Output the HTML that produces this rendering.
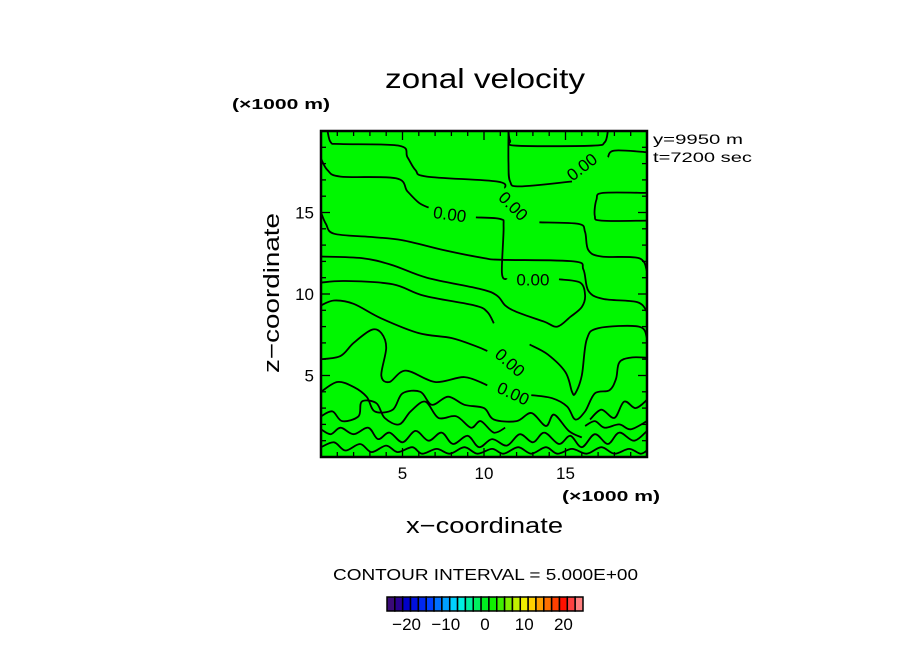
<!DOCTYPE html>
<html><head><meta charset="utf-8"><style>
body{margin:0;background:#fff;}
svg{display:block;font-family:"Liberation Sans",sans-serif;}
</style></head><body>
<svg id="c" width="904" height="654" viewBox="0 0 904 654">
<text x="385" y="88" font-size="28" textLength="200" lengthAdjust="spacingAndGlyphs">zonal velocity</text>
<text x="232" y="109" font-size="15" font-weight="bold" textLength="98" lengthAdjust="spacingAndGlyphs">(×1000 m)</text>
<text x="653" y="144" font-size="14" textLength="90" lengthAdjust="spacingAndGlyphs">y=9950 m</text>
<text x="653" y="162" font-size="14" textLength="99" lengthAdjust="spacingAndGlyphs">t=7200 sec</text>
<rect x="321" y="131" width="326" height="326" fill="#00f700"/>
<g id="contours" fill="none" stroke="#000" stroke-width="1.8"></g>
<g id="clabels" font-size="17"></g>
<g id="ticks" stroke="#000" stroke-width="1.3"></g>
<rect x="321" y="131" width="326" height="326" fill="none" stroke="#000" stroke-width="2.5"/>
<g id="tlabels" font-size="17"></g>
<text x="562" y="501" font-size="15" font-weight="bold" textLength="98" lengthAdjust="spacingAndGlyphs">(×1000 m)</text>
<text x="406" y="533" font-size="22" textLength="157" lengthAdjust="spacingAndGlyphs">x−coordinate</text>
<text transform="translate(279,373) rotate(-90)" font-size="22" textLength="160" lengthAdjust="spacingAndGlyphs">z−coordinate</text>
<text x="333" y="580" font-size="16" textLength="305" lengthAdjust="spacingAndGlyphs">CONTOUR INTERVAL = 5.000E+00</text>
<g id="cbar"></g>
<g id="cbl" font-size="17" text-anchor="middle"></g>
</svg>
<script>
const xTicks=[5,10,15];
const zTicks=[5,10,15];
const cbarTicks=[-20,-10,0,10,20];
const cbarLevels=[-25,-23,-21,-19,-17,-15,-13,-11,-9,-7,-5,-3,-1,1,3,5,7,9,11,13,15,17,19,21,23];
const cbarColors=["#3a0a78","#2a0090","#0000c8","#0010e0","#0028f0","#0040ff","#0070ff","#00a0ff","#00d0ff","#00f0e0","#00f0a0","#00f060","#00f020","#10f000","#40f000","#80f000","#c0f000","#f0f000","#ffd000","#ffa000","#ff7000","#ff4000","#ff1000","#ff4040","#ff8080"];
const contours=[
[[0.4,20],[0.6,19.3],[1.2,19.2],[4.8,19.1],[5.3,18.4],[5.8,17.6],[6.5,17.2],[10.8,16.9],[11.3,16.5]],
[[13.4,14.4],[15.8,14.3],[16.2,13.8],[16.4,12.7],[17.2,12.3],[19.5,12.2],[20,11.4]],
[[17.6,20],[17.4,19.3],[16.6,19.1],[12.0,19.1],[11.6,19.4],[11.5,20]],
[[20,18.7],[18.0,18.8],[17.6,18.4]],
[[15.4,16.9],[12.2,16.6],[11.6,16.9],[11.5,18.0],[11.5,20]],
[[20,16.2],[17.3,16.2],[16.9,15.8],[16.8,14.8],[17.2,14.5],[20,14.5]],
[[0,18.3],[0.4,17.6],[1.2,17.2],[4.6,17.1],[5.3,16.3],[6.0,15.6],[6.6,15.3]],
[[9.5,14.7],[11.0,14.6],[11.2,14.1],[11.1,11.3],[11.4,10.9]],
[[14.6,10.9],[15.9,10.7],[16.2,9.9],[16.0,9.2],[15.3,8.6],[14.5,8.0],[13.7,8.3],[12.0,8.9],[11.3,9.3],[10.8,9.9],[9.8,10.3],[6.5,11.0],[4.3,11.8],[2.5,12.2],[0,12.3]],
[[0,15.0],[0.3,14.3],[0.8,13.7],[3,13.5],[5,13.3],[7.5,12.7],[10,12.2],[11.1,12.1],[15.5,12.0],[16.1,11.5],[16.4,10.2],[17.3,9.7],[19.4,9.5],[20,8.9]],
[[0,10.7],[1.5,10.8],[4.4,10.6],[6.3,9.9],[9.4,9.3],[10.2,8.9],[10.6,8.2]],
[[12.8,6.9],[13.9,6.3],[15.0,5.2],[15.4,4.0],[15.6,3.9],[16.0,5.0],[16.3,7.2],[17.0,7.9],[19.5,8.0],[20,7.3]],
[[0,9.3],[0.8,9.6],[2.0,9.4],[3.7,8.5],[6,7.6],[8,7.3],[9.5,6.8],[10.2,6.5]],
[[0,6.0],[1.2,6.2],[2.0,7.0],[3.1,7.8],[3.7,7.6],[4.0,6.7],[3.7,5.0],[4.2,4.6],[5.2,5.3],[7.0,4.6],[8.8,4.9],[10.2,4.4]],
[[12.9,3.8],[14.2,3.6],[15.1,3.1],[15.6,2.3],[16.2,2.8],[16.8,3.9],[17.7,4.1],[18.1,4.8],[18.3,5.8],[19.0,6.1],[20,6.1]],
[[0,4.0],[1.0,4.6],[2.0,4.3],[2.8,3.7],[3.3,2.8],[4.4,2.9],[5.0,3.9],[6.1,4.0],[6.8,3.2],[7.8,3.7],[8.8,3.2],[10.0,3.0],[10.6,2.3],[12.0,2.2],[12.9,2.7],[13.8,1.9],[14.3,2.6],[15.2,1.6],[16.0,1.2]],
[[0,2.5],[0.7,2.8],[1.3,2.2],[2.3,2.5],[2.5,3.4],[3.4,3.3],[3.9,2.4],[4.8,2.0],[5.5,2.8],[6.4,3.4],[7.2,2.4],[8.3,2.5],[9.2,1.8],[9.8,2.2],[10.6,1.5],[11.3,1.8]],
[[0,1.7],[0.6,1.4],[1.2,1.8],[2.0,1.4],[2.9,1.8],[3.5,1.1],[4.2,1.5],[5.0,0.9],[5.8,1.6],[6.6,1.0],[7.4,1.5],[8.1,0.8],[9.0,1.3],[9.7,0.6],[10.5,1.1],[11.4,0.7],[12.2,1.4],[13.0,0.9],[13.7,1.5],[14.6,0.8],[15.3,1.3],[16.0,0.6],[16.8,1.4],[17.6,0.8],[18.3,1.5],[19.2,1.0],[20,1.6]],
[[0,0.6],[0.8,0.9],[1.5,0.4],[2.4,0.8],[3.1,0.3],[4.0,0.7],[4.7,0.3],[5.6,0.6],[6.2,0.2],[7.1,0.5],[7.9,0.2],[8.8,0.6],[9.6,0.2],[10.5,0.5],[11.2,0.2],[12.1,0.6],[12.9,0.2],[13.8,0.6],[14.5,0.2],[15.4,0.5],[16.3,0.2],[17.2,0.6],[18.0,0.2],[18.9,0.5],[19.6,0.2],[20,0.4]],
[[16.5,2.3],[17.2,2.9],[18.0,2.4],[18.6,3.4],[19.3,3.0],[20,3.5]],
[[16.2,1.9],[16.8,2.2],[17.4,1.8],[18.3,2.0],[19.0,1.7],[20,2.2]]
];
const labelText=["0.00","0.00","0.00","0.00","0.00","0.00"];
const labelX=[7.9,16.0,11.8,13.0,11.6,11.8];
const labelZ=[14.9,17.8,15.4,10.9,5.8,3.9];
const labelRot=[8,-38,45,0,42,25];

const X0=321,Y0=457,S=16.3;
const xs=v=>X0+v*S, zs=v=>Y0-v*S;
const NS="http://www.w3.org/2000/svg";
function mk(t,p){const e=document.createElementNS(NS,t);for(const k in p)e.setAttribute(k,p[k]);return e;}
function smooth(pts){
  const P=pts.map(p=>[xs(p[0]),zs(p[1])]);
  let d='M'+P[0][0].toFixed(1)+' '+P[0][1].toFixed(1);
  for(let i=0;i<P.length-1;i++){
    const p0=P[Math.max(0,i-1)],p1=P[i],p2=P[i+1],p3=P[Math.min(P.length-1,i+2)];
    const c1=[p1[0]+(p2[0]-p0[0])/6,p1[1]+(p2[1]-p0[1])/6];
    const c2=[p2[0]-(p3[0]-p1[0])/6,p2[1]-(p3[1]-p1[1])/6];
    d+=`C${c1[0].toFixed(1)} ${c1[1].toFixed(1)} ${c2[0].toFixed(1)} ${c2[1].toFixed(1)} ${p2[0].toFixed(1)} ${p2[1].toFixed(1)}`;
  }
  return d;
}
const cg=document.getElementById('contours');
contours.forEach(line=>{
  const el=mk('path',{d:smooth(line),'stroke-linejoin':'round'});
  
  
  cg.appendChild(el);
});
const lg=document.getElementById('clabels');
labelText.forEach((t,i)=>{
  const x=xs(labelX[i]),y=zs(labelZ[i]);
  const el=mk('text',{x:x,y:y+6,'text-anchor':'middle',transform:`rotate(${labelRot[i]} ${x} ${y})`});
  el.textContent=t;
  
  
  lg.appendChild(el);
});
const tg=document.getElementById('ticks');
for(let v=1;v<20;v++){
  const L=(v%5==0)?9:5;
  tg.appendChild(mk('line',{x1:xs(v),x2:xs(v),y1:Y0,y2:Y0-L}));
  tg.appendChild(mk('line',{x1:xs(v),x2:xs(v),y1:zs(20),y2:zs(20)+L}));
  tg.appendChild(mk('line',{x1:X0,x2:X0+L,y1:zs(v),y2:zs(v)}));
  tg.appendChild(mk('line',{x1:xs(20),x2:xs(20)-L,y1:zs(v),y2:zs(v)}));
}
const tl=document.getElementById('tlabels');
xTicks.forEach(v=>{const e=mk('text',{x:xs(v),y:479,'text-anchor':'middle'});e.textContent=v;
  
  
  tl.appendChild(e);});
zTicks.forEach(v=>{const e=mk('text',{x:314,y:zs(v)+6,'text-anchor':'end'});e.textContent=v;
  
  
  tl.appendChild(e);});
const cb=document.getElementById('cbar');
const CX0=387,CW=196,CL=-25,CR=25,cx=v=>CX0+(v-CL)/(CR-CL)*CW;
cbarLevels.forEach((lv,i)=>{
  const e=mk('rect',{x:cx(lv),y:597,width:CW/cbarLevels.length,height:14,fill:cbarColors[i],stroke:'#000','stroke-width':1.5});
  
  
  cb.appendChild(e);
});
const cbl=document.getElementById('cbl');
cbarTicks.forEach(v=>{const e=mk('text',{x:cx(v),y:630});e.textContent=(v<0?'−'+(-v):v);
  
  
  cbl.appendChild(e);});
</script>
</body></html>
